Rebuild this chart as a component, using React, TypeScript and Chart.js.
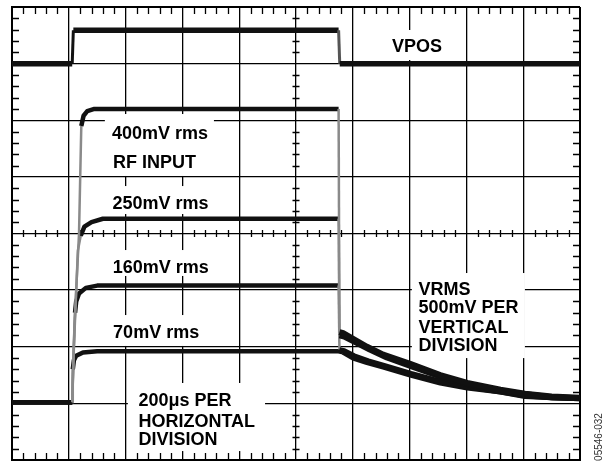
import React, { useEffect, useRef } from "react";
import { Chart, registerables } from "chart.js";
Chart.register(...registerables);

// Time in µs (200 µs / division), level in V (500 mV / division, screen units)
const X_MIN = 0;
const X_MAX = 2000;
const X_STEP = 200;
const Y_MIN = 0;
const Y_MAX = 4;
const Y_STEP = 0.5;
const RF_OFF_TIME = 1152;

const vposTime = [0, 212, 216, 1150, 1154, 2000];
const vposLevel = [3.5, 3.5, 3.795, 3.795, 3.5, 3.5];

const rf400Time = [0, 212, 220, 236, 244, 252, 265, 290, 1150, 1153, 1166, 1201, 1250, 1307, 1402, 1508, 1603, 1720, 1806, 1900, 2000];
const rf400Level = [0.51, 0.51, 1.2, 2.0, 2.95, 3.04, 3.08, 3.1, 3.1, 1.13, 1.12, 1.07, 1.0, 0.93, 0.85, 0.75, 0.68, 0.62, 0.585, 0.56, 0.55];

const rf250Time = [0, 212, 218, 232, 242, 255, 280, 320, 1150, 1153, 1170, 1210, 1260, 1320, 1410, 1510, 1610, 1720, 1810, 1900, 2000];
const rf250Level = [0.51, 0.51, 1.0, 1.85, 1.98, 2.06, 2.1, 2.13, 2.13, 1.1, 1.09, 1.04, 0.975, 0.905, 0.825, 0.735, 0.665, 0.61, 0.58, 0.555, 0.545];

const rf160Time = [0, 212, 216, 222, 226, 236, 260, 300, 1150, 1153, 1170, 1205, 1255, 1310, 1405, 1510, 1605, 1720, 1810, 1900, 2000];
const rf160Level = [0.51, 0.51, 0.9, 1.3, 1.4, 1.47, 1.52, 1.54, 1.54, 0.975, 0.965, 0.92, 0.875, 0.835, 0.765, 0.695, 0.645, 0.6, 0.565, 0.55, 0.54];

const rf70Time = [0, 212, 214, 218, 226, 250, 300, 1150, 1166, 1201, 1250, 1307, 1402, 1508, 1603, 1720, 1806, 1900, 2000];
const rf70Level = [0.51, 0.51, 0.8, 0.88, 0.92, 0.95, 0.96, 0.96, 0.95, 0.9, 0.86, 0.82, 0.75, 0.68, 0.635, 0.6, 0.56, 0.55, 0.545];

// Annotation text (lines) anchored in data coordinates
const labelLines = [
  { text: "VPOS", x: 1338, y: 3.605 },
  { text: "400mV rms", x: 352, y: 2.832 },
  { text: "RF INPUT", x: 356, y: 2.581 },
  { text: "250mV rms", x: 354, y: 2.216 },
  { text: "160mV rms", x: 355, y: 1.654 },
  { text: "70mV rms", x: 356, y: 1.077 },
  { text: "200\u03BCs PER", x: 445, y: 0.477 },
  { text: "HORIZONTAL", x: 445, y: 0.291 },
  { text: "DIVISION", x: 445, y: 0.132 },
  { text: "VRMS", x: 1431, y: 1.457 },
  { text: "500mV PER", x: 1431, y: 1.295 },
  { text: "VERTICAL", x: 1431, y: 1.124 },
  { text: "DIVISION", x: 1431, y: 0.962 },
];

// White label backgrounds (x0, x1 in µs; y0, y1 in V)
const labelBoxes = [
  [1306, 1542, 3.532, 3.797],
  [327, 711, 2.508, 3.055],
  [327, 718, 2.172, 2.419],
  [327, 711, 1.625, 1.854],
  [327, 711, 1.007, 1.28],
  [408, 891, 0.079, 0.68],
  [1408, 1806, 0.9, 1.651],
];

const FONT = '"Liberation Sans", Arial, Helvetica, sans-serif';

const zip = (xs: number[], ys: number[]) => xs.map((x, i) => ({ x, y: ys[i] }));

const steep = (c: any) => {
  const dy = Math.abs(c.p1.y - c.p0.y);
  const dx = Math.abs(c.p1.x - c.p0.x);
  return dy > 12 && dy > 2.5 * dx;
};

const makeSegment = (decayWidth: number) => ({
  borderColor: (c: any) => (steep(c) ? "#8a8a8a" : undefined),
  borderWidth: (c: any) =>
    steep(c) ? 2.5 : c.p0.parsed.x >= RF_OFF_TIME ? decayWidth : undefined,
});

const vposSegment = {
  borderColor: (c: any) => (steep(c) && c.p1.y > c.p0.y ? "#555" : undefined),
  borderWidth: (c: any) => (steep(c) ? 3 : undefined),
};

const overlayPlugin = {
  id: "scopeOverlay",
  beforeDatasetsDraw(chart: any) {
    const { ctx, chartArea } = chart;
    const xs = chart.scales.x;
    const ys = chart.scales.y;
    const { left, right, top, bottom } = chartArea;
    ctx.save();
    ctx.strokeStyle = "#000";
    ctx.lineWidth = 1.3;
    const xc = xs.getPixelForValue((X_MIN + X_MAX) / 2);
    const yc = ys.getPixelForValue((Y_MIN + Y_MAX) / 2);
    const xMinor = X_STEP / 5;
    const yMinor = Y_STEP / 5;
    ctx.beginPath();
    for (let i = 1; i * xMinor < X_MAX - 1e-9; i++) {
      if (i % 5 === 0) continue;
      const px = Math.round(xs.getPixelForValue(X_MIN + i * xMinor)) + 0.5;
      ctx.moveTo(px, top);
      ctx.lineTo(px, top + 7);
      ctx.moveTo(px, bottom);
      ctx.lineTo(px, bottom - 7);
      ctx.moveTo(px, yc - 3.5);
      ctx.lineTo(px, yc + 3.5);
    }
    for (let i = 1; i * yMinor < Y_MAX - 1e-9; i++) {
      if (i % 5 === 0) continue;
      const py = Math.round(ys.getPixelForValue(Y_MIN + i * yMinor)) + 0.5;
      ctx.moveTo(left, py);
      ctx.lineTo(left + 7, py);
      ctx.moveTo(right, py);
      ctx.lineTo(right - 7, py);
      ctx.moveTo(xc - 3.5, py);
      ctx.lineTo(xc + 3.5, py);
    }
    ctx.stroke();

    ctx.fillStyle = "#fff";
    for (const [x0, x1, y0, y1] of labelBoxes) {
      const px0 = xs.getPixelForValue(x0);
      const px1 = xs.getPixelForValue(x1);
      const py0 = ys.getPixelForValue(y1);
      const py1 = ys.getPixelForValue(y0);
      ctx.fillRect(px0, py0, px1 - px0, py1 - py0);
    }

    ctx.fillStyle = "#000";
    ctx.font = `bold 18px ${FONT}`;
    ctx.textAlign = "left";
    ctx.textBaseline = "alphabetic";
    for (const l of labelLines) {
      ctx.fillText(l.text, xs.getPixelForValue(l.x), ys.getPixelForValue(l.y));
    }
    ctx.restore();
  },
  afterDraw(chart: any) {
    const { ctx } = chart;
    ctx.save();
    ctx.translate(599, 437);
    ctx.rotate(-Math.PI / 2);
    ctx.fillStyle = "#333";
    ctx.font = `10px ${FONT}`;
    ctx.textAlign = "center";
    ctx.textBaseline = "middle";
    ctx.fillText("05546-032", 0, 0);
    ctx.restore();
  },
};

const gridWidth = (c: any) => {
  const v = c.tick ? c.tick.value : null;
  return v === X_MIN || v === X_MAX || v === Y_MAX || v === Y_MIN ? 2 : 1.3;
};

export default function App() {
  const ref = useRef<HTMLCanvasElement>(null);
  useEffect(() => {
    if (!ref.current) return;
    const mk = (data: any[], width: number, segment: any) => ({
      data,
      borderColor: "#111",
      borderWidth: width,
      pointRadius: 0,
      tension: 0,
      fill: false,
      borderJoinStyle: "round" as const,
      segment,
    });
    const chart = new Chart(ref.current, {
      type: "line",
      data: {
        datasets: [
          mk(zip(vposTime, vposLevel), 5.5, vposSegment),
          mk(zip(rf400Time, rf400Level), 4.5, makeSegment(6)),
          mk(zip(rf250Time, rf250Level), 4.5, makeSegment(6)),
          mk(zip(rf160Time, rf160Level), 4.5, makeSegment(5)),
          mk(zip(rf70Time, rf70Level), 4.5, makeSegment(5)),
        ],
      },
      options: {
        animation: false,
        responsive: false,
        devicePixelRatio: 1,
        layout: { padding: { left: 12, top: 7, right: 24, bottom: 1 } },
        plugins: { legend: { display: false }, tooltip: { enabled: false } },
        scales: {
          x: {
            type: "linear",
            min: X_MIN,
            max: X_MAX,
            ticks: { display: false, stepSize: X_STEP },
            grid: { color: "#000", lineWidth: gridWidth, drawTicks: false },
            border: { display: true, color: "#000", width: 2 },
          },
          y: {
            type: "linear",
            min: Y_MIN,
            max: Y_MAX,
            ticks: { display: false, stepSize: Y_STEP },
            grid: { color: "#000", lineWidth: gridWidth, drawTicks: false },
            border: { display: true, color: "#000", width: 2 },
          },
        },
      },
      plugins: [overlayPlugin],
    });
    return () => chart.destroy();
  }, []);
  return (
    <div style={{ position: "absolute", left: 0, top: 0, width: 604, height: 461, background: "#fff" }}>
      <canvas ref={ref} width={604} height={461} style={{ display: "block", width: 604, height: 461 }} />
    </div>
  );
}
